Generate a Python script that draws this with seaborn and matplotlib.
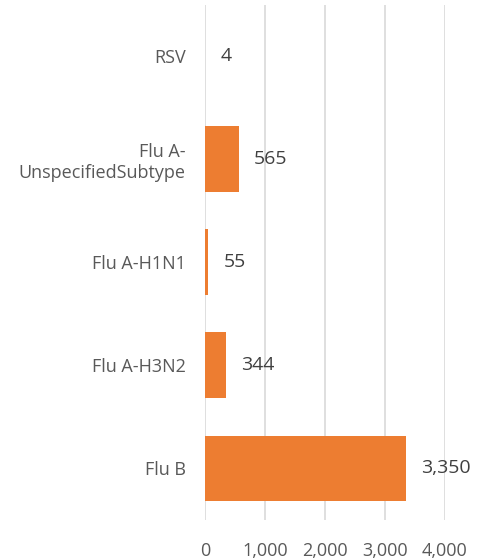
import matplotlib
matplotlib.use("Agg")
import matplotlib.pyplot as plt
import seaborn as sns
import pandas as pd

# data
categories = ["RSV", "Flu A-\nUnspecifiedSubtype", "Flu A-H1N1", "Flu A-H3N2", "Flu B"]
counts = [4, 565, 55, 344, 3350]
x_ticks = [0, 1000, 2000, 3000, 4000]

sns.set_theme(style="white")
plt.rcParams['font.family'] = ['Open Sans', 'DejaVu Sans']

df = pd.DataFrame({"category": categories, "count": counts})

fig = plt.figure(figsize=(4.79, 5.6), dpi=100)
ax = fig.add_axes([0.428, 0.0714, 0.501, 0.92])

sns.barplot(data=df, x="count", y="category", orient="h", color="#ED7D31",
            saturation=1, width=0.64, linewidth=0, ax=ax)

# value labels to the right of each bar
for c in ax.containers:
    ax.bar_label(c, labels=[f"{v:,}" for v in counts], padding=11,
                 fontsize=14, color="#404040", clip_on=False)

ax.set_xlim(0, 4000)
ax.set_ylim(4.5, -0.5)
ax.set_xticks(x_ticks)
ax.set_xticklabels([f"{t:,}" for t in x_ticks])
ax.xaxis.grid(True, color="#d9d9d9", linewidth=1.2)
ax.set_axisbelow(True)
ax.set_xlabel("")
ax.set_ylabel("")
for s in ax.spines.values():
    s.set_visible(False)
ax.tick_params(axis="x", length=0, pad=16, labelsize=13, labelcolor="#595959")
ax.tick_params(axis="y", length=0, pad=14, labelsize=13, labelcolor="#595959")

plt.savefig("out.png", dpi=100)
